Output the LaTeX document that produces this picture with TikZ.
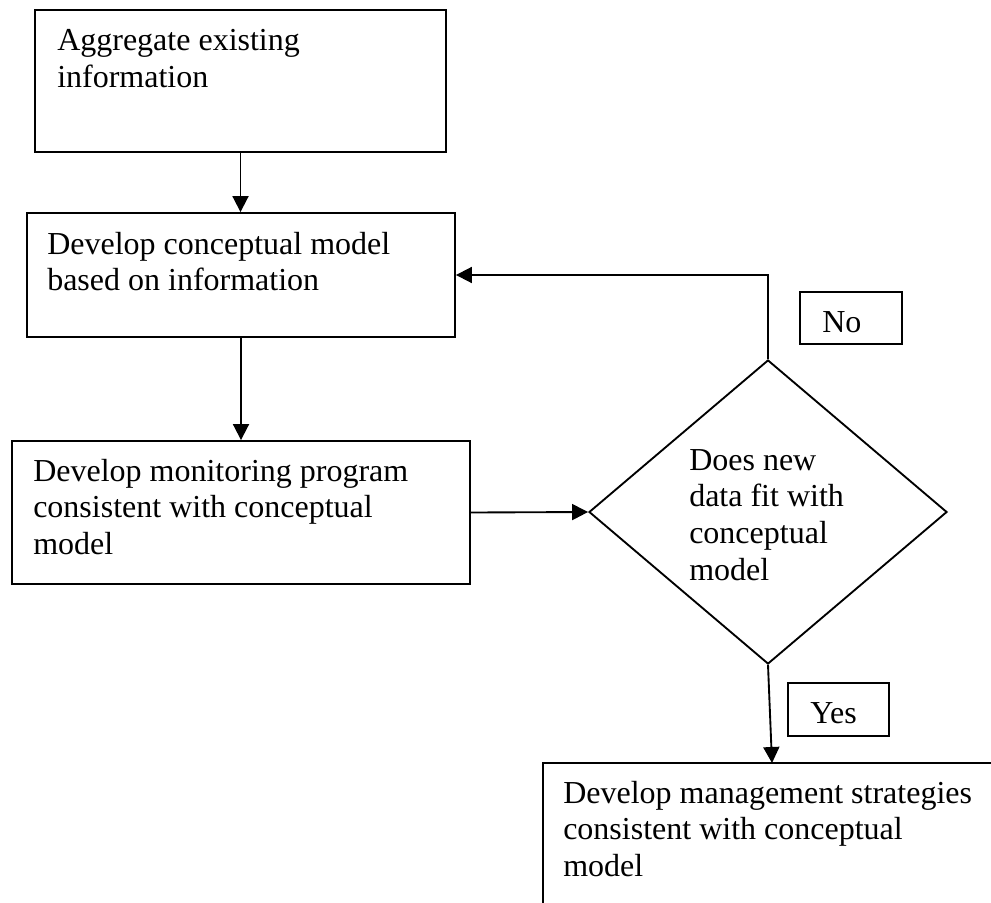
\documentclass[tikz,border=0pt]{standalone}
\usepackage{fontspec}
\setmainfont{Liberation Serif}
\usetikzlibrary{arrows.meta,shapes.geometric,fit}
\begin{document}
\begin{tikzpicture}[x=0.75pt,y=-0.75pt,
  box/.style={draw,line width=1.4pt,inner sep=0pt},
  txt/.style={anchor=base west,inner sep=0pt,font=\fontsize{24}{27.5}\selectfont},
  arr/.style={draw,line width=1.4pt,-{Triangle[length=12pt,width=12pt]}}]
\fill[white] (0,0) rectangle (991,902);
\useasboundingbox (0,0) rectangle (991,902);
\clip (0,0) rectangle (991,902);
% boxes
\node[box,fit={(35,10) (446,152)}] (b1) {};
\node[box,fit={(27,213) (455,337)}] (b2) {};
\node[box,fit={(12,441) (470,584)}] (b3) {};
\node[box,fit={(543,763) (1010,930)}] (b5) {};
\node[box,fit={(800,292) (902,344)}] (bno) {};
\node[box,fit={(788,683) (889,736)}] (byes) {};
\node[draw,diamond,line width=1.4pt,minimum width=268.5pt,minimum height=228pt,inner sep=0pt] (d) at (768,512) {};
% texts
\node[txt] (t1) at (57,51) {\vtop{\hbox{Aggregate existing}\hbox{information}}};
\node[txt] (t2) at (47,254) {\vtop{\hbox{Develop conceptual model}\hbox{based on information}}};
\node[txt] (t3) at (33,481) {\vtop{\hbox{Develop monitoring program}\hbox{consistent with conceptual}\hbox{model}}};
\node[txt] (td) at (689,470) {\vtop{\hbox{Does new}\hbox{data fit with}\hbox{conceptual}\hbox{model}}};
\node[txt] (t5) at (563,803) {\vtop{\hbox{Develop management strategies}\hbox{consistent with conceptual}\hbox{model}}};
\node[txt] (tno) at (822,332) {No};
\node[txt] (tyes) at (810,723) {Yes};
% connectors
\coordinate (e5) at (772,763);
\draw[arr] (b1.south) -- (b1.south |- b2.north);
\draw[arr] (b2.south) -- (b3.north);
\draw[arr] (b3.east) -- (d.west);
\draw[arr] (d.north) |- (b2.east);
\draw[arr] (d.south) -- (e5);
\end{tikzpicture}
\end{document}
